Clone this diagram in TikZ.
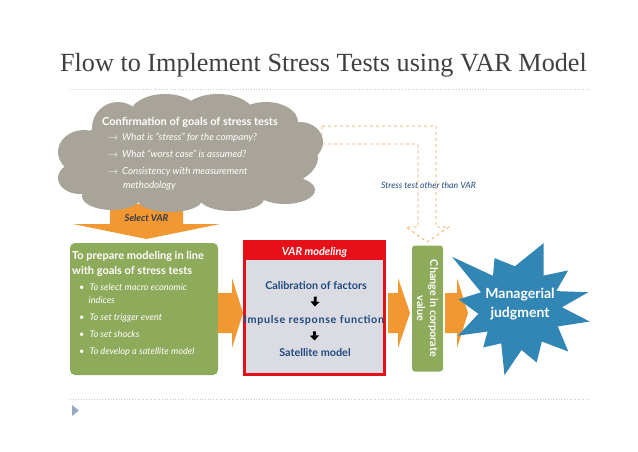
\documentclass[tikz,border=0pt]{standalone}
\usepackage{fontspec}
\setmainfont{Lato}
\newfontfamily\titlefont{Liberation Serif}
\usetikzlibrary{arrows.meta,positioning}

\definecolor{titlegray}{RGB}{64,64,64}
\definecolor{rulecol}{RGB}{196,205,216}
\definecolor{tricol}{RGB}{150,170,198}
\definecolor{cloudgray}{RGB}{168,164,153}
\definecolor{orangefill}{RGB}{242,152,50}
\definecolor{dashorange}{RGB}{236,165,85}
\definecolor{boxgreen}{RGB}{142,170,91}
\definecolor{boxred}{RGB}{230,16,24}
\definecolor{boxgray}{RGB}{219,219,228}
\definecolor{textblue}{RGB}{31,73,125}
\definecolor{starblue}{RGB}{50,134,180}
\definecolor{labeldark}{RGB}{50,58,70}

\newcommand{\flowarrow}[3]{%
  \fill[orangefill] (#1,293) -- (#2,293) -- (#2,278) -- (#3,313)
    -- (#2,348) -- (#2,333) -- (#1,333) -- cycle;}

\begin{document}
\begin{tikzpicture}[x=1pt,y=-1pt,
    greenbox/.style={fill=boxgreen,rounded corners=5pt,inner sep=0pt},
    vartext/.style={font=\bfseries\fontsize{10.8}{12}\selectfont,text=textblue},
    blkarrow/.style={line width=2.8pt,-{Triangle[width=9pt,length=5pt]},
      shorten <=3pt,shorten >=5pt},
    dotrule/.style={rulecol,dotted,line width=0.7pt}]
    \useasboundingbox[fill=white] (0,0) rectangle (638,452);

    % title and rules
    \node[font=\titlefont\fontsize{26.2}{30}\selectfont,text=titlegray]
        (title) at (323.5,65) {Flow to Implement Stress Tests using VAR Model};
    \draw[dotrule] (70,89) -- (590,89);
    \draw[dotrule] (70,399) -- (590,399);
    \fill[tricol] (72,405) -- (79,410.5) -- (72,416) -- cycle;

    % dashed bypass arrow
    \draw[dashorange,dashed,line width=0.7pt]
        (322,126) -- (436,126) -- (436,227) -- (449,227) -- (427,242)
        -- (406,227) -- (418,227) -- (418,144) -- (322,144) -- cycle;
    \node[font=\itshape\fontsize{8.7}{10}\selectfont,text=textblue]
        (other) at (428.5,185) {Stress test other than VAR};

    % select VAR arrow
    \fill[orangefill] (110,204) -- (183,204) -- (183,224) -- (220,224)
        -- (146.5,239) -- (73,224) -- (110,224) -- cycle;

    % cloud of goals
    \fill[cloudgray] (190,158) ellipse[x radius=128,y radius=44]
        (118,128) circle[radius=26]
        (165,116) ellipse[x radius=36,y radius=22]
        (218,114) ellipse[x radius=36,y radius=20]
        (266,122) ellipse[x radius=32,y radius=20]
        (300,142) ellipse[x radius=23,y radius=20]
        (84,152) ellipse[x radius=26,y radius=22]
        (80,178) ellipse[x radius=22,y radius=16]
        (112,196) ellipse[x radius=30,y radius=14]
        (170,200) ellipse[x radius=32,y radius=12]
        (232,199) ellipse[x radius=32,y radius=12]
        (285,190) ellipse[x radius=30,y radius=14];
    \node[font=\bfseries\fontsize{11}{13}\selectfont,text=white]
        (goals) at (190,122) {Confirmation of goals of stress tests};
    \node[anchor=north west,align=left,inner sep=0pt,text=white,
        font=\itshape\fontsize{9.7}{17}\selectfont]
        (questions) at (108,133)
        {$\rightarrow$\hspace{4pt}What is “stress” for the company?\\
         $\rightarrow$\hspace{4pt}What “worst case” is assumed?\\
         $\rightarrow$\hspace{4pt}Consistency with measurement\\[-3pt]
         \hspace*{15pt}methodology};
    \node[font=\bfseries\itshape\fontsize{9.5}{11}\selectfont,text=labeldark]
        (select) at (146.5,218) {Select VAR};

    % preparation box
    \node[greenbox,minimum width=148pt,minimum height=132pt]
        (prep) at (144,309) {};
    \node[anchor=north west,align=left,inner sep=0pt,text=white,
        font=\bfseries\fontsize{11}{15}\selectfont]
        (prephead) at (72,251) {To prepare modeling in line\\with goals of stress tests};
    \node[anchor=north west,align=left,inner sep=0pt,text=white,
        font=\itshape\fontsize{9.2}{13}\selectfont]
        (prepitems) at (79,284)
        {\textbullet\hspace{5pt}To select macro economic\\
         \hspace*{9.5pt}indices\\[4pt]
         \textbullet\hspace{5pt}To set trigger event\\[4pt]
         \textbullet\hspace{5pt}To set shocks\\[4pt]
         \textbullet\hspace{5pt}To develop a satellite model};

    % VAR modeling box
    \node[draw=boxred,line width=3pt,fill=boxgray,inner sep=0pt,
        minimum width=140pt,minimum height=133pt] (var) at (314.5,308) {};
    \fill[boxred] (var.north west) rectangle ([yshift=-20pt]var.north east);
    \node[font=\bfseries\itshape\fontsize{11}{13}\selectfont,text=white]
        (varhead) at (314.5,252) {VAR modeling};
    \node[vartext] (calib) at (316,286) {Calibration of factors};
    \node[vartext,font=\bfseries\fontsize{10.8}{12}\selectfont\addfontfeature{LetterSpace=6}]
        (impulse) at (314,320) {Impulse response function};
    \node[vartext] (satellite) at (315,353) {Satellite model};
    \draw[blkarrow] (calib) -- (impulse);
    \draw[blkarrow] (impulse) -- (satellite);

    % block arrows between stages
    \flowarrow{218}{232}{243}
    \flowarrow{388}{398}{410}
    \flowarrow{445}{457}{468}

    % change in value
    \node[greenbox,rounded corners=3pt,rotate=-90,minimum width=126pt,
        minimum height=31pt,align=center,text=white,
        font=\bfseries\fontsize{10.8}{13}\selectfont]
        (change) at (427.5,308.5) {Change in corporate\\value};

    % managerial judgment
    \fill[starblue,shift={(520,308)}]
        (-70:69) -- (-54:40) -- (-38:61) -- (-25:40) -- (-13:70) -- (-1:42)
        -- (11:71) -- (26:42) -- (42:65) -- (57:40) -- (73:57) -- (88:42)
        -- (103:69) -- (118:40) -- (133:54) -- (144:40) -- (156:68)
        -- (172:42) -- (188:62) -- (202:42) -- (217:85) -- (230:42)
        -- (243:56) -- (263:42) -- cycle;
    \node[align=center,text=white,font=\bfseries\fontsize{14}{19}\selectfont]
        (judge) at (520,304) {Managerial\\judgment};
\end{tikzpicture}
\end{document}
